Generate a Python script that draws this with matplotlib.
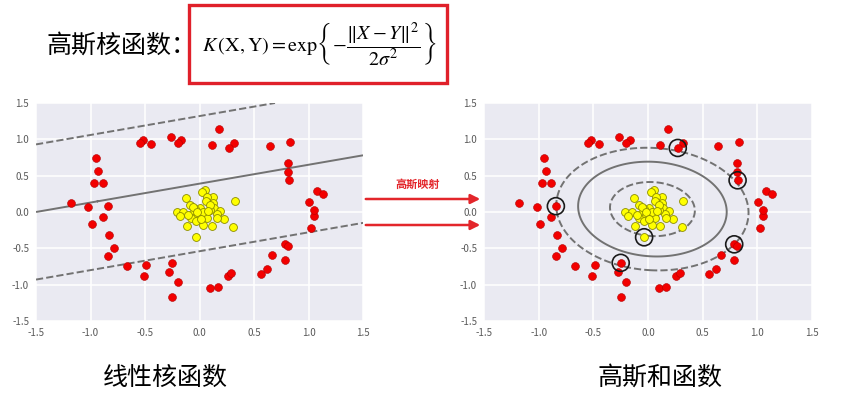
import numpy as np
import matplotlib.pyplot as plt
from matplotlib.patches import Rectangle, FancyArrowPatch

plt.rcParams['font.family'] = ['Noto Sans CJK SC', 'DejaVu Sans']
plt.rcParams['mathtext.fontset'] = 'stix'

# outer ring (class 0, red)
red_x = [-1.18, -1.02, -0.95, -0.93, -0.97, -0.886, -0.843, -0.886, -0.987, -0.83,
         -0.785, -0.84, -0.666, -0.489, -0.513, -0.25, -0.278, -0.198, -0.25, 0.098,
         0.168, 0.26, 0.293, 0.562, 0.617, 0.663, 0.785, 0.788, 0.816, 1.024,
         1.051, 1.054, 1.002, 1.076, 1.13, 0.819, 0.816, 0.81, 0.834, 0.642,
         0.318, 0.272, 0.18, 0.11, -0.168, -0.198, -0.263, -0.449, -0.522, -0.547]
red_y = [0.13, 0.07, 0.74, 0.57, 0.40, 0.40, 0.08, -0.07, -0.165, -0.31,
         -0.50, -0.61, -0.75, -0.73, -0.885, -0.70, -0.826, -0.968, -1.17, -1.04,
         -1.037, -0.88, -0.84, -0.85, -0.79, -0.596, -0.665, -0.445, -0.463, -0.22,
         -0.06, 0.023, 0.142, 0.289, 0.243, 0.436, 0.546, 0.674, 0.963, 0.904,
         0.954, 0.881, 1.142, 0.917, 0.99, 0.954, 1.028, 0.94, 0.986, 0.95]

# inner blob (class 1, yellow)
yel_x = [0.05, 0.026, 0.127, 0.072, -0.127, 0.323, 0.06, 0.127, -0.087, 0.133,
         0.005, -0.041, -0.209, -0.149, -0.179, -0.066, -0.011, 0.188, 0.157, 0.05,
         0.02, 0.066, -0.032, -0.081, 0.225, 0.163, -0.035, 0.035, -0.117, 0.112,
         0.31, -0.035, -0.103, -0.057, 0.035, 0.096, 0.096, -0.02, 0.01, 0.08]
yel_y = [0.30, 0.28, 0.21, 0.21, 0.19, 0.155, 0.15, 0.12, 0.096, 0.06,
         0.05, 0.037, 0.004, -0.005, -0.05, -0.027, -0.027, 0.014, -0.032, -0.05,
         -0.064, -0.078, -0.073, -0.087, -0.097, -0.087, -0.124, -0.179, -0.188, -0.193,
         -0.2, -0.348, -0.041, 0.073, -0.005, 0.028, 0.096, 0.0, -0.1, 0.02]

# support vectors of the rbf model
sv_x = [0.272, 0.819, -0.843, -0.036, -0.25, 0.788]
sv_y = [0.881, 0.436, 0.08, -0.348, -0.70, -0.445]

# linear boundary y = slope*x + intercept, margin along y
lin_slope, lin_intercept, lin_margin = 0.26, 0.39, 0.93

# rbf boundary (approximate quadratic level set)
rbf_cx, rbf_cy, rbf_sy, rbf_cross = 0.04, 0.04, 0.96, 0.12
rbf_r0, rbf_scale = 0.46, 0.31

bg = '#EAEAF2'
line_col = '#727272'

fig = plt.figure(figsize=(8.48, 3.99), dpi=100)
ax1 = fig.add_axes([0.0425, 0.1955, 0.3856, 0.5464])
ax2 = fig.add_axes([0.5708, 0.1955, 0.3868, 0.5464])

gx, gy = np.meshgrid(np.linspace(-1.5, 1.5, 400), np.linspace(-1.5, 1.5, 400))
fmt = plt.FuncFormatter(lambda v, p: f'{v:.1f}'.replace('\u2212', '-'))

for ax in (ax1, ax2):
    ax.set_facecolor(bg)
    ax.set_xlim(-1.5, 1.5)
    ax.set_ylim(-1.5, 1.5)
    ax.set_xticks(np.arange(-1.5, 1.51, 0.5))
    ax.set_yticks(np.arange(-1.5, 1.51, 0.5))
    ax.xaxis.set_major_formatter(fmt)
    ax.yaxis.set_major_formatter(fmt)
    ax.grid(True, color='white', linewidth=1.1)
    ax.set_axisbelow(True)
    ax.tick_params(length=0, labelsize=7, labelcolor='#5A5A5A', pad=5)
    for s in ax.spines.values():
        s.set_visible(False)
    ax.scatter(red_x, red_y, s=32, c='#F20000', edgecolors='#B00000', linewidths=0.4, zorder=3)
    ax.scatter(yel_x, yel_y, s=32, c='#FFFF00', edgecolors='#8C8C00', linewidths=0.6, zorder=3)

# linear kernel decision function
f_lin = (gy - lin_slope * gx - lin_intercept) / lin_margin
ax1.contour(gx, gy, f_lin, levels=[-1, 0, 1], colors=line_col,
            linestyles=['--', '-', '--'], linewidths=1.4, zorder=2)

# rbf decision function
dx, dy = gx - rbf_cx, (gy - rbf_cy) / rbf_sy
q = dx ** 2 + dy ** 2 + rbf_cross * dx * dy
f_rbf = (rbf_r0 - q) / rbf_scale
ax2.contour(gx, gy, f_rbf, levels=[-1, 0, 1], colors=line_col,
            linestyles=['--', '-', '--'], linewidths=1.4, zorder=2)
ax2.scatter(sv_x, sv_y, s=150, facecolors='none', edgecolors='#1A1A1A', linewidths=1.2, zorder=4)

# header with formula
fig.text(0.055, 0.885, '高斯核函数：', fontsize=18, va='center', ha='left')
fig.patches.append(Rectangle((0.2229, 0.792), 0.304, 0.1955, transform=fig.transFigure,
                             fill=False, edgecolor='#E0202A', linewidth=2.4))
fig.text(0.376, 0.888,
         r'$K\,(\mathrm{X},\mathrm{Y})=\mathrm{exp}\left\{-\dfrac{\Vert X-Y\Vert^2}{2\sigma^2}\right\}$',
         fontsize=14.5, ha='center', va='center')

# mapping arrows
for yy in (1 - 199 / 399, 1 - 225 / 399):
    fig.patches.append(FancyArrowPatch((363 / 848, yy), (483 / 848, yy), transform=fig.transFigure,
                                       arrowstyle='-|>', mutation_scale=14, color='#E3262B',
                                       linewidth=1.8))
fig.text(0.493, 0.538, '高斯映射', fontsize=8, color='#E3262B', fontweight='bold',
         ha='center', va='center')

fig.text(0.195, 0.053, '线性核函数', fontsize=18, ha='center', va='center')
fig.text(0.778, 0.053, '高斯和函数', fontsize=18, ha='center', va='center')

fig.savefig('out.png', dpi=100, facecolor='white')
